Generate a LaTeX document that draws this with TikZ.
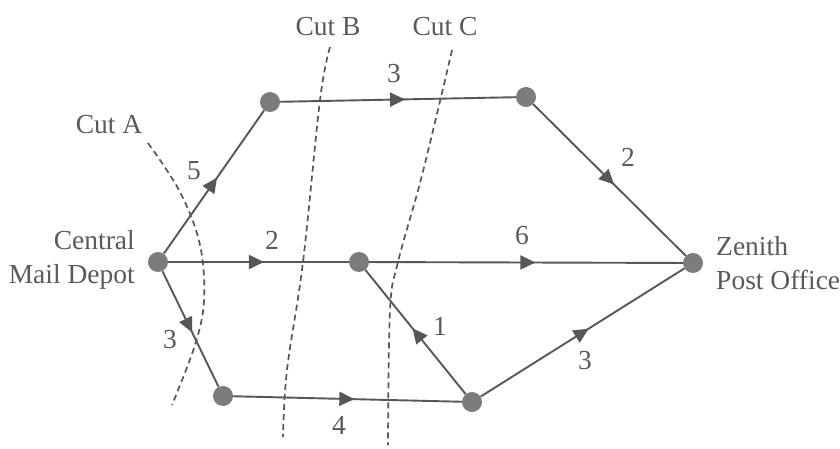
\documentclass[tikz,border=0pt]{standalone}
\usepackage{fontspec}
\setmainfont{Liberation Serif}
\usetikzlibrary{decorations.markings,arrows.meta}
\definecolor{ink}{HTML}{575757}
\definecolor{dotc}{HTML}{7C7C7C}
\definecolor{txt}{HTML}{5A5A5A}
\begin{document}
\begin{tikzpicture}[x=1pt,y=-1pt,
  vtx/.style={circle,fill=dotc,inner sep=0pt,minimum size=20pt},
  edge/.style={color=ink,line width=1.9pt,postaction={decorate},
    decoration={markings,mark=at position 0.53 with {\arrow{Triangle[length=15pt,width=14pt]}}}},
  lbl/.style={text=txt,font=\fontsize{27.5}{34}\selectfont,inner sep=0pt},
  cut/.style={draw=ink,line width=1.7pt,dash pattern=on 6pt off 4pt}]
\useasboundingbox[fill=white] (0,0) rectangle (840,449);
% cuts
\draw[cut] plot[smooth,tension=0.6] coordinates {(148,143) (180,192) (200,245) (204,300) (195,345) (172,405)};
\draw[cut] plot[smooth,tension=0.6] coordinates {(330,47) (320,100) (303,262) (287,370) (283,437)};
\draw[cut] plot[smooth,tension=0.6] coordinates {(452,50) (441,97) (420,183) (398,262) (390,310) (388,445)};
% vertices
\node[vtx] (D) at (158,262) {};
\node[vtx] (TL) at (270,102) {};
\node[vtx] (TR) at (526,97) {};
\node[vtx] (M) at (359,262) {};
\node[vtx] (Z) at (693,263) {};
\node[vtx] (BL) at (223,396) {};
\node[vtx] (BR) at (472,402) {};
% edges
\draw[edge] (D) -- (TL);
\draw[edge] (TL) -- (TR);
\draw[edge] (TR) -- (Z);
\draw[edge] (D) -- (M);
\draw[edge] (M) -- (Z);
\draw[edge] (D) -- (BL);
\draw[edge] (BL) -- (BR);
\draw[edge] (BR) -- (M);
\draw[edge] (BR) -- (Z);
% capacities
\node[lbl] (c1) at (194,171) {5};
\node[lbl] (c2) at (394,74) {3};
\node[lbl] (c3) at (628,157) {2};
\node[lbl] (c4) at (272,240) {2};
\node[lbl] (c5) at (522,236) {6};
\node[lbl] (c6) at (170,340) {3};
\node[lbl] (c7) at (339,425) {4};
\node[lbl] (c8) at (440,326) {1};
\node[lbl] (c9) at (585,361) {3};
% cut labels
\node[lbl] (ca) at (109,125) {Cut A};
\node[lbl] (cb) at (328,27) {Cut B};
\node[lbl] (cc) at (445,27) {Cut C};
% place labels
\node[lbl,align=right,anchor=east] (dep) at (135,260) {Central\\Mail Depot};
\node[lbl,align=left,anchor=west] (zen) at (716,263) {Zenith\\Post Office};
\end{tikzpicture}
\end{document}
